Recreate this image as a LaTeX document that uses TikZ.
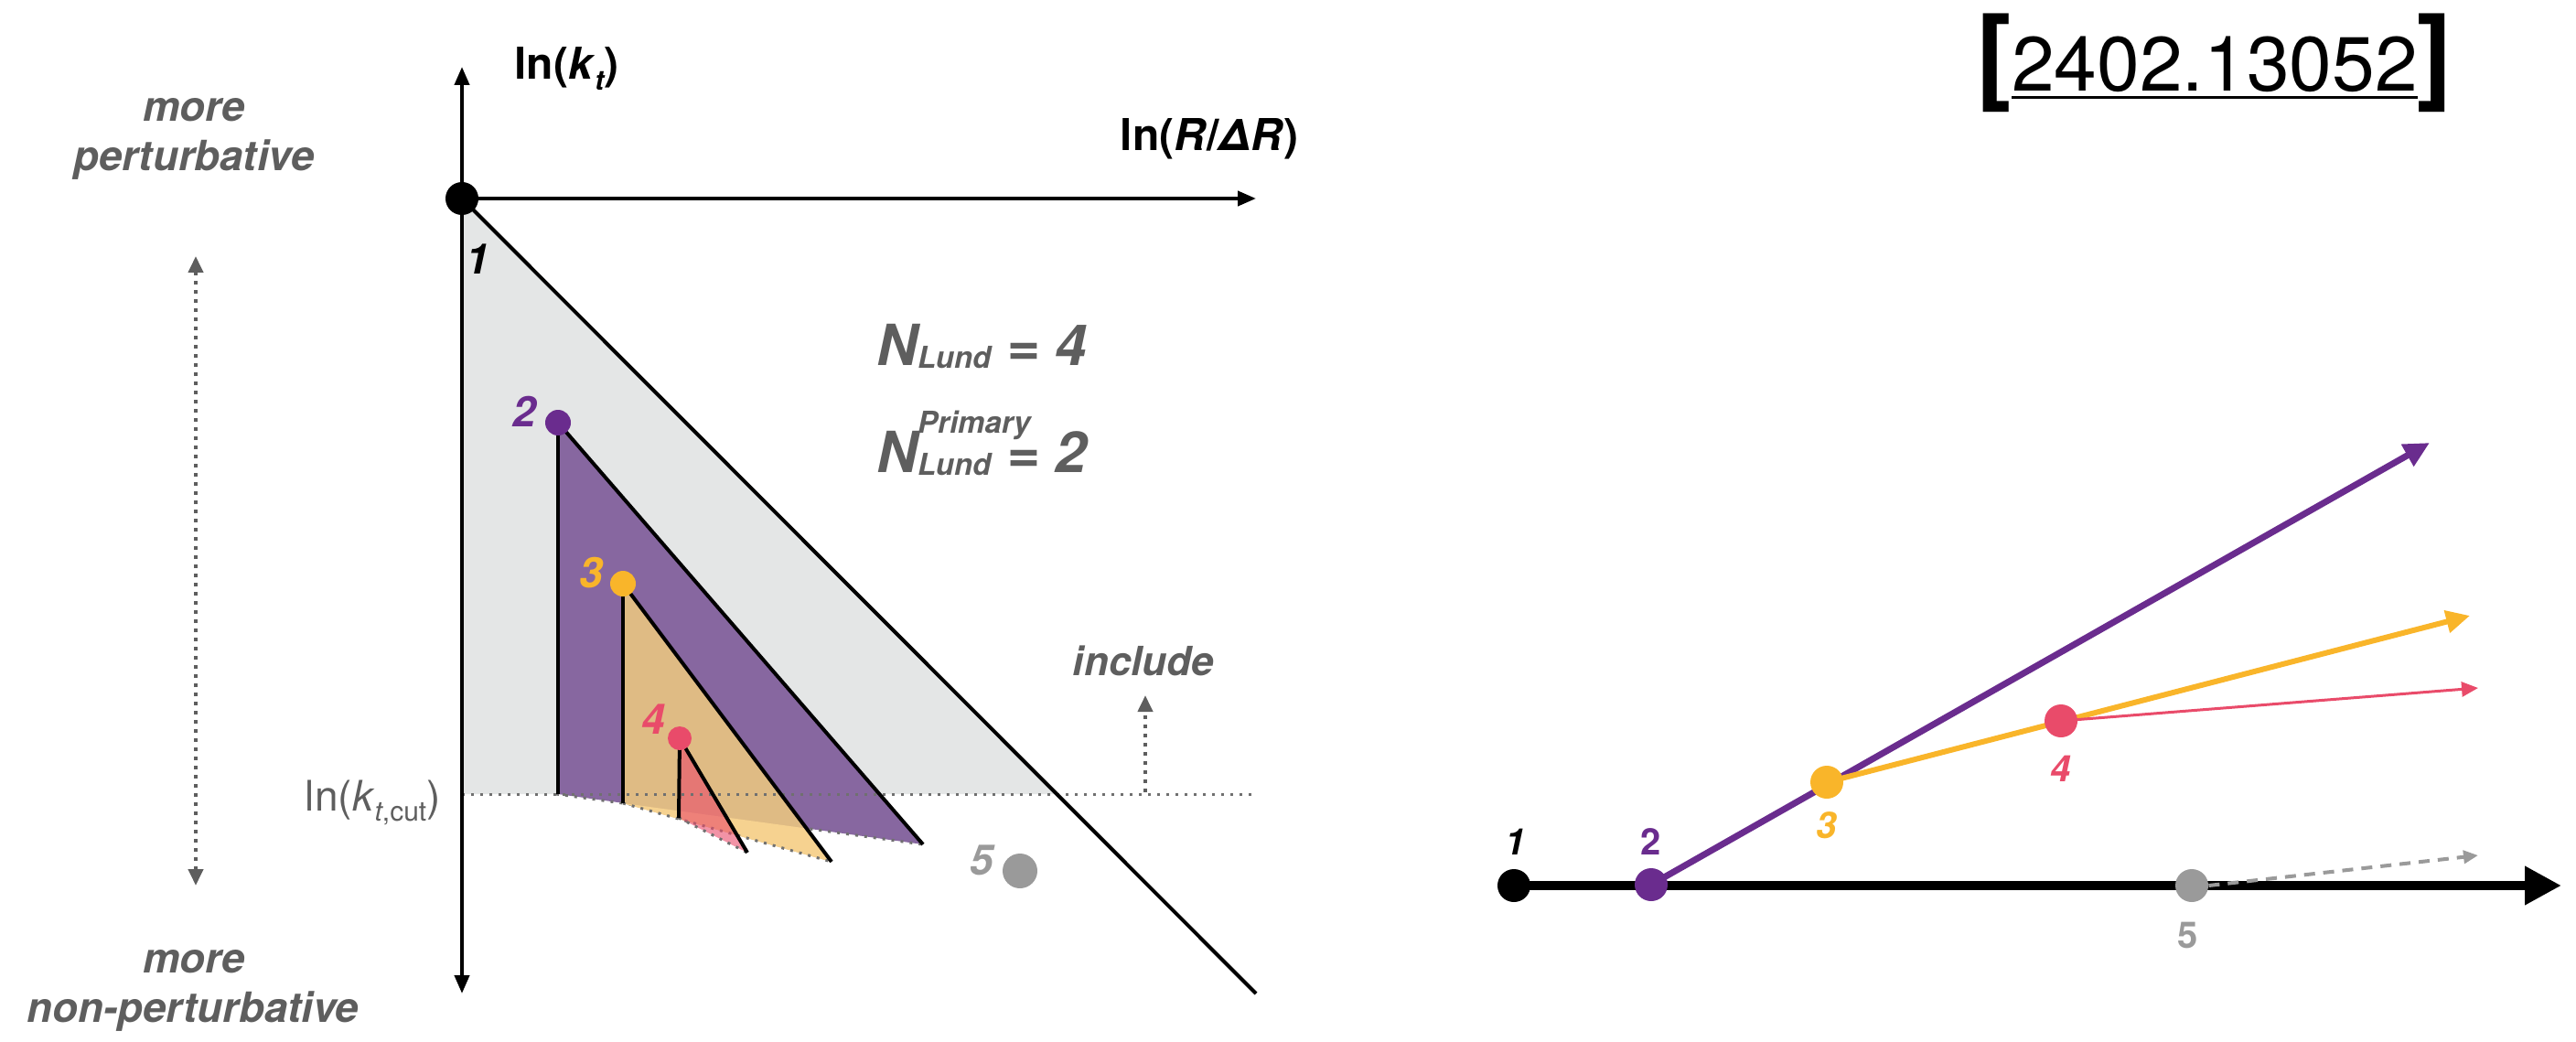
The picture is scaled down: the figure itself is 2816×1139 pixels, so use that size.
\documentclass[tikz,border=0pt]{standalone}
\usepackage{fontspec}
\setmainfont{TeX Gyre Heros}
\usetikzlibrary{arrows.meta,backgrounds}
\definecolor{grayfill}{HTML}{E4E6E6}
\definecolor{purpF}{HTML}{8767A0}
\definecolor{purpD}{HTML}{6A2C8E}
\definecolor{orng}{HTML}{F9B52A}
\definecolor{tanF}{HTML}{DFBB84}
\definecolor{lorng}{HTML}{F6D290}
\definecolor{pinkc}{HTML}{E94B6A}
\definecolor{gfive}{HTML}{9A9A9A}
\definecolor{dotgray}{HTML}{707070}
\definecolor{txtgray}{HTML}{5E5E5E}
\newcommand{\fsz}[1]{\fontsize{#1}{#1}\selectfont}
\begin{document}
\begin{tikzpicture}[x=0.5pt,y=-0.5pt,
  dots/.style={draw=dotgray,line width=1.5pt,dash pattern=on 1.5pt off 3.5pt},
  gdots/.style={draw=txtgray,line width=2pt,dash pattern=on 2pt off 3pt},
  edge/.style={draw=black,line width=2pt},
  axis/.style={draw=black,line width=2pt},
  dot/.style={circle,inner sep=0pt,draw=none},
  rdot/.style={circle,inner sep=0pt,draw=none,minimum size=18pt},
  numlab/.style={font=\fsz{23}\bfseries\itshape,inner sep=0pt},
  rnum/.style={font=\fsz{20}\bfseries\itshape,inner sep=0pt},
  glab/.style={font=\fsz{22.8}\bfseries\itshape,text=txtgray,inner sep=0pt,anchor=base},
  tip/.style={-{Triangle[length=10pt,width=8pt]}}
]
\useasboundingbox (0,0) rectangle (2816,1139);
% ---------------- left figure: coordinates
\coordinate (ytop) at (505,73);
\coordinate (ybot) at (505,1086);
\coordinate (xend) at (1373,217);
\coordinate (dend) at (1373,1086);
\coordinate (cutL) at (505,868);
\coordinate (cutX) at (1156,868);
\coordinate (cutR) at (1375,868);
\coordinate (B2) at (608,868);
\coordinate (C2) at (1009,923);
\coordinate (B3) at (681,878);
\coordinate (C3) at (909,942);
\coordinate (B4) at (742,894);
\coordinate (C4) at (817,932);
% dots (nodes)
\node[dot,minimum size=18pt,fill=black] (n1) at (505,217) {};
\node[dot,minimum size=14pt,fill=purpD] (n2) at (610,462) {};
\node[dot,minimum size=14pt,fill=orng] (n3) at (681,638) {};
\node[dot,minimum size=13pt,fill=pinkc] (n4) at (743,807) {};
\node[dot,minimum size=19pt,fill=gfive] (n5) at (1115,952) {};
\begin{scope}[on background layer]
  \fill[grayfill] (n1.center) -- (cutL) -- (cutX) -- cycle;
  % purple
  \fill[purpF] (n2.center) -- (n2.center |- B2) -- (C2) -- cycle;
  \draw[dots] (B2) -- (C2);
  % orange
  \fill[tanF] (n3.center) -- (B3) -- (C3) -- cycle;
  \begin{scope}
    \clip (n3.center) -- (B3) -- (C3) -- cycle;
    \fill[lorng] (B2) -- (C2) -- (1009,1123) -- (608,1068) -- cycle;
  \end{scope}
  \draw[dots] (B3) -- (C3);
  % pink
  \fill[pinkc,opacity=0.6] (n4.center) -- (B4) -- (C4) -- cycle;
  \draw[dots] (B4) -- (C4);
  % cut line
  \draw[dots] (cutL) -- (cutR);
  % black edges
  \draw[edge] (n2.center) -- (n2.center |- B2);
  \draw[edge] (n2.center) -- (C2);
  \draw[edge] (n3.center) -- (B3);
  \draw[edge] (n3.center) -- (C3);
  \draw[edge] (n4.center) -- (B4);
  \draw[edge] (n4.center) -- (C4);
  \draw[edge] (n1.center) -- (dend);
  % axes
  \draw[axis,{Triangle[length=10pt,width=8pt]}-{Triangle[length=10pt,width=8pt]}] (ybot) -- (ytop);
  \draw[axis,tip] (n1.center) -- (xend);
\end{scope}
% labels
\node[anchor=base west,inner sep=0pt,font=\fsz{24}\bfseries] (lkt) at (562,87)
  {ln(\textit{k}\raisebox{-0.25em}{\fsz{15}\itshape t})};
\node[anchor=base,inner sep=0pt,font=\fsz{24}\bfseries] (lrr) at (1322,165)
  {ln(\textit{R}/\textit{ΔR})};
\node[anchor=base east,inner sep=0pt,font=\fsz{23},text=txtgray] (lcut) at (482,886)
  {ln(\textit{k}\raisebox{-0.25em}{\fsz{15}\textit{t},cut})};
\node[glab] (mp1) at (212,133) {more};
\node[glab] (mp2) at (212,187) {perturbative};
\node[glab] (mnp1) at (212,1063) {more};
\node[glab] (mnp2) at (211,1117) {non-perturbative};
\coordinate (vup) at (214,280);
\coordinate (vdn) at (214,968);
\draw[gdots,{Triangle[length=9pt,width=8pt]}-{Triangle[length=9pt,width=8pt]}] (vdn) -- (vup);
\node[glab,font=\fsz{22}\bfseries\itshape] (incl) at (1250,738) {include};
\coordinate (iup) at (1252,760);
\coordinate (ibase) at (1252,866);
\draw[gdots,-{Triangle[length=9pt,width=8pt]}] (ibase) -- (iup);
\node[numlab] (l1) at (522,283) {1};
\node[numlab,text=purpD] (l2) at (573,450) {2};
\node[numlab,text=orng] (l3) at (646,626) {3};
\node[numlab,text=pinkc] (l4) at (714,786) {4};
\node[numlab,text=gfive] (l5) at (1073,940) {5};
\node[anchor=base west,inner sep=0pt,text=txtgray,font=\fsz{31}\bfseries\itshape] (nl1) at (958,399)
  {N\raisebox{-0.05em}{\fsz{16.5}Lund}\ = 4};
\node[anchor=base west,inner sep=0pt,text=txtgray,font=\fsz{31}\bfseries\itshape] (nl2) at (958,516)
  {N\rlap{\raisebox{0.68em}{\fsz{16.5}Primary}}\raisebox{-0.05em}{\fsz{16.5}Lund}\ = 2};
% citation
\node[anchor=base,inner sep=0pt] (cite) at (2421,100)
  {{\fsz{58}\bfseries[}\setbox0\hbox{\fsz{42}2402.13052}\rlap{\rule[-4pt]{\wd0}{1.5pt}}\box0{\fsz{58}\bfseries]}};
% ---------------- right figure
\node[rdot,fill=black] (r1) at (1655,968) {};
\node[rdot,fill=purpD] (r2) at (1805,967) {};
\node[rdot,fill=orng] (r3) at (1997,855) {};
\node[rdot,fill=pinkc] (r4) at (2253,788) {};
\node[rdot,fill=gfive] (r5) at (2396,968) {};
\coordinate (rend) at (2800,968);
\coordinate (pend) at (2656,484);
\coordinate (oend) at (2700,673);
\coordinate (kend) at (2709,752);
\coordinate (gend) at (2709,935);
\begin{scope}[on background layer]
  \draw[line width=5pt,-{Triangle[length=20pt,width=20pt]}] (r1.center) -- (rend);
  \draw[purpD,line width=3.5pt,-{Triangle[length=14pt,width=13pt]}] (r2.center) -- (pend);
  \draw[orng,line width=3pt,-{Triangle[length=13pt,width=12pt]}] (r3.center) -- (oend);
  \draw[pinkc,line width=1.5pt,-{Triangle[length=9pt,width=8pt]}] (r4.center) -- (kend);
  \draw[gfive,line width=2pt,dash pattern=on 6pt off 4.5pt,-{Triangle[length=8pt,width=7pt]}] (r5.east) -- (gend);
\end{scope}
\node[rnum] (q1) at (1657,920) {1};
\node[rnum,text=purpD,font=\fsz{20}\bfseries] (q2) at (1805,920) {2};
\node[rnum,text=orng] (q3) at (1997,902) {3};
\node[rnum,text=pinkc] (q4) at (2253,840) {4};
\node[rnum,text=gfive,font=\fsz{20}\bfseries] (q5) at (2392,1022) {5};
\end{tikzpicture}
\end{document}
